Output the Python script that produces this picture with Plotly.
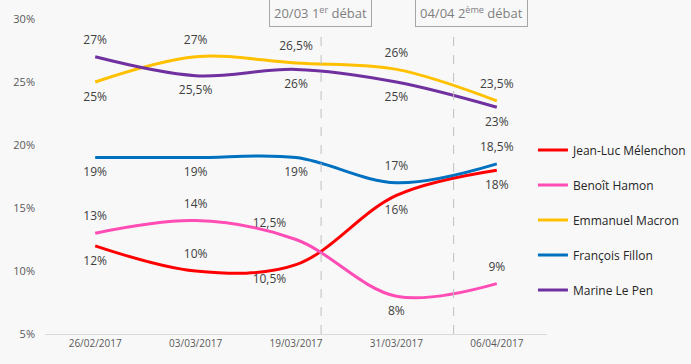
import plotly.graph_objects as go

dates = ["26/02/2017", "03/03/2017", "19/03/2017", "31/03/2017", "06/04/2017"]
candidates = ["Jean-Luc Mélenchon", "Benoît Hamon", "Emmanuel Macron", "François Fillon", "Marine Le Pen"]
melenchon = [12, 10, 10.5, 16, 18]
hamon = [13, 14, 12.5, 8, 9]
macron = [25, 27, 26.5, 26, 23.5]
fillon = [19, 19, 19, 17, 18.5]
lepen = [27, 25.5, 26, 25, 23]
colors = ["#FF0000", "#FF4DB5", "#FFC000", "#0070C0", "#7030A0"]
label_pos = [
    ["bottom center", "top center", "bottom left", "bottom center", "bottom center"],
    ["top center", "top center", "top left", "bottom center", "top center"],
    ["bottom center", "top center", "top center", "top center", "top center"],
    ["bottom center", "bottom center", "bottom center", "top center", "top center"],
    ["top center", "bottom center", "bottom center", "bottom center", "bottom center"],
]
events = ["20/03 1<sup>er</sup> débat", "04/04 2<sup>ème</sup> débat"]
event_pos = [2.25, 3.57]
event_box_pos = [2.24, 3.75]

series = [melenchon, hamon, macron, fillon, lepen]

def fmt(v):
    return (f"{v:g}%").replace(".", ",")

FONT = "Open Sans"
fig = go.Figure()
for name, vals, col, pos in zip(candidates, series, colors, label_pos):
    fig.add_trace(go.Scatter(
        x=list(range(len(dates))), y=vals, name=name, mode="lines+markers+text",
        line=dict(color=col, width=3, shape="spline", smoothing=1),
        marker=dict(size=14, color="rgba(0,0,0,0)"),
        text=[fmt(v) for v in vals], textposition=pos,
        textfont=dict(family=FONT, size=12, color="#404040"),
        legendgroup=name, hoverinfo="skip",
    ))

for xp in event_pos:
    fig.add_shape(type="line", x0=xp, x1=xp, y0=5, y1=29, xref="x", yref="y",
                  line=dict(color="#BFBFBF", width=1, dash="dash"))
for xp, t in zip(event_box_pos, events):
    fig.add_annotation(x=xp, y=1.022, xref="x", yref="paper", yanchor="middle",
                       text=t, showarrow=False,
                       font=dict(family=FONT, size=13, color="#7F7F7F"),
                       bordercolor="#A6A6A6", borderwidth=1, borderpad=4,
                       bgcolor="#F8F8F8")

fig.update_layout(
    width=691, height=364,
    margin=dict(l=45, r=144, t=19, b=30, autoexpand=False),
    paper_bgcolor="#F8F8F8", plot_bgcolor="#F8F8F8",
    font=dict(family=FONT, color="#595959"),
    xaxis=dict(tickmode="array", tickvals=list(range(len(dates))), ticktext=dates,
               range=[-0.5, 4.5], showgrid=False, zeroline=False,
               showline=True, linecolor="#D9D9D9", linewidth=1,
               tickfont=dict(size=10, color="#595959"), ticks=""),
    yaxis=dict(range=[5, 30], dtick=5, ticksuffix="%", showgrid=False, zeroline=False,
               showline=False, tickfont=dict(size=11, color="#595959"),
               ticklabelstandoff=9),
    legend=dict(x=0.972, xanchor="left", y=0.63, yanchor="top",
                font=dict(family=FONT, size=12, color="#262626"),
                tracegroupgap=16, bgcolor="rgba(0,0,0,0)"),
    showlegend=True,
)

fig.write_html("out.html", config={"displayModeBar": False},
               post_script="document.body.style.margin='0';document.body.style.background='#F8F8F8';")
